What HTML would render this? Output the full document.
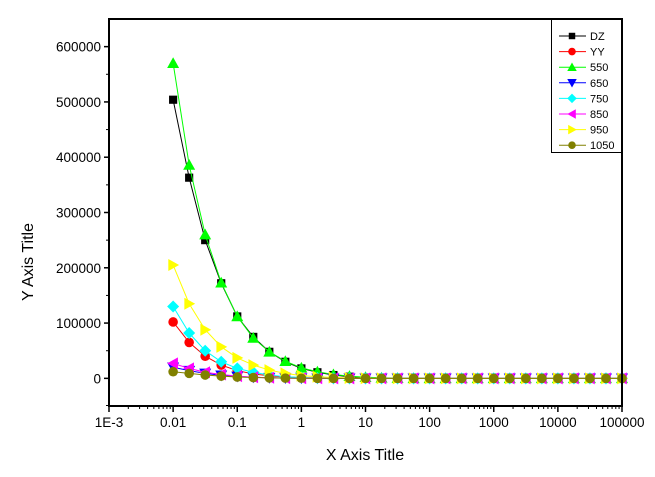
<!DOCTYPE html>
<html><head><meta charset="utf-8"><style>
body{margin:0;background:#fff;}
svg{display:block;font-family:"Liberation Sans",Arial,sans-serif;}
</style></head><body>
<svg id="chart" width="655" height="477" viewBox="0 0 655 477"></svg>
<script>
const seriesNames=["DZ","YY","550","650","750","850","950","1050"];
const colors=["#000000","#ff0000","#00ff00","#0000ff","#00ffff","#ff00ff","#ffff00","#808000"];
const markers=["square","circle","up","down","diamond","left","right","circle"];
const xTickLabels=["1E-3","0.01","0.1","1","10","100","1000","10000","100000"];
const yTickLabels=["0","100000","200000","300000","400000","500000","600000"];
const sDZ=[504000,363000,250000,172000,112000,75000,48000,30000,18000,11000,6000,3000,1500,700,300,100,0,0,0,0,0,0,0,0,0,0,0,0,0];
const sYY=[102000,65000,40000,24000,14000,8000,4500,2500,1300,600,300,100,0,0,0,0,0,0,0,0,0,0,0,0,0,0,0,0,0];
const s550=[570000,386000,260000,173000,112000,73000,48000,31000,19000,12000,7000,4000,2000,1000,400,150,0,0,0,0,0,0,0,0,0,0,0,0,0];
const s650=[20000,14000,9000,5500,3500,2000,1200,600,300,100,0,0,0,0,0,0,0,0,0,0,0,0,0,0,0,0,0,0,0];
const s750=[130000,82000,50000,30000,18000,11000,6000,3000,1500,700,300,100,0,0,0,0,0,0,0,0,0,0,0,0,0,0,0,0,0];
const s850=[27000,18000,11000,7000,4000,2000,1000,500,200,100,0,0,0,0,0,0,0,0,0,0,0,0,0,0,0,0,0,0,0];
const s950=[205000,135000,88000,57000,37000,24000,15000,9000,5000,3000,1500,700,300,100,0,0,0,0,0,0,0,0,0,0,0,0,0,0,0];
const s1050=[12000,9000,6000,4000,2500,1500,800,400,200,100,0,0,0,0,0,0,0,0,0,0,0,0,0,0,0,0,0,0,0];
const allSeries=[sDZ,sYY,s550,s650,s750,s850,s950,s1050];
const xLogStart=-2, xLogStep=0.25;

const L=109,R=622,T=19,B=406;
const xMin=-3,xMax=5,yMin=-50000,yMax=650000;
const X=v=>L+(Math.log10(v)-xMin)/(xMax-xMin)*(R-L);
const Y=v=>B-(v-yMin)/(yMax-yMin)*(B-T);
const svg=document.getElementById('chart');
const NS="http://www.w3.org/2000/svg";
function mk(tag,attrs,parent){const e=document.createElementNS(NS,tag);for(const k in attrs)e.setAttribute(k,attrs[k]);(parent||svg).appendChild(e);return e;}

function marker(type,cx,cy,s,color,parent){
  let e;
  if(type==="square")e=mk('rect',{x:cx-s*0.85,y:cy-s*0.85,width:1.7*s,height:1.7*s,fill:color},parent);
  else if(type==="circle")e=mk('circle',{cx:cx,cy:cy,r:s,fill:color},parent);
  else{
    let p;
    const k=s*1.25;
    if(type==="up")p=[[cx,cy-k],[cx+k,cy+k*0.8],[cx-k,cy+k*0.8]];
    if(type==="down")p=[[cx,cy+k],[cx+k,cy-k*0.8],[cx-k,cy-k*0.8]];
    if(type==="left")p=[[cx-k,cy],[cx+k*0.8,cy-k],[cx+k*0.8,cy+k]];
    if(type==="right")p=[[cx+k,cy],[cx-k*0.8,cy-k],[cx-k*0.8,cy+k]];
    if(type==="diamond")p=[[cx,cy-k],[cx+k,cy],[cx,cy+k],[cx-k,cy]];
    e=mk('polygon',{points:p.map(q=>q.join(',')).join(' '),fill:color},parent);
  }
  return e;
}

// series
allSeries.forEach((s,si)=>{
  const g=mk('g',{});
  
  
  const pts=s.map((v,i)=>[X(Math.pow(10,xLogStart+i*xLogStep)),Y(v)]);
  const pl=mk('polyline',{points:pts.map(p=>p.join(',')).join(' '),fill:'none',stroke:colors[si],'stroke-width':1},g);
  
  pts.forEach(p=>{
    const m=marker(markers[si],p[0],p[1],4.8,colors[si],g);
    
    
  });
});

// legend
const lg=mk('g',{});

mk('rect',{x:551.5,y:19,width:70,height:133.5,fill:'#fff',stroke:'#000'},lg);
seriesNames.forEach((n,i)=>{
  const y=36+i*15.6;
  const e=mk('g',{},lg);
  
  mk('line',{x1:559,x2:586,y1:y,y2:y,stroke:colors[i]},e);
  marker(markers[i],572,y,3.8,colors[i],e);
  const t=mk('text',{x:590,y:y+4,'font-size':11},e);t.textContent=n;
});

// frame
const frame=mk('rect',{x:L,y:T,width:R-L,height:B-T,fill:'none',stroke:'#000','stroke-width':2});


// y ticks
yTickLabels.forEach((lab)=>{
  const v=+lab,y=Y(v);
  const t=mk('line',{x1:L,x2:L-5,y1:y,y2:y,stroke:'#000','stroke-width':1.5});
  
  const tx=mk('text',{x:L-8,y:y+5,'text-anchor':'end','font-size':13.5});
  tx.textContent=lab;
  
  const ym=Y(v+50000);if(ym>T){const m=mk('line',{x1:L,x2:L-3,y1:ym,y2:ym,stroke:'#000'});}
});
{const m=mk('line',{x1:L,x2:L-3,y1:Y(-50000)-0.5,y2:Y(-50000)-0.5,stroke:'#000'});}
// x ticks
xTickLabels.forEach((lab,i)=>{
  const v=Math.pow(10,xMin+i),x=X(v);
  const t=mk('line',{x1:x,x2:x,y1:B,y2:B+6,stroke:'#000','stroke-width':1.5});
  
  const tx=mk('text',{x:x,y:B+21,'text-anchor':'middle','font-size':13.5});
  tx.textContent=lab;
  
  if(i<xTickLabels.length-1){for(let k=2;k<10;k++){const xm=X(v*k);const m=mk('line',{x1:xm,x2:xm,y1:B,y2:B+3,stroke:'#000'});}}
});
const xt=mk('text',{x:365,y:460,'text-anchor':'middle','font-size':16});xt.textContent='X Axis Title';

const yt=mk('text',{x:33,y:262,'text-anchor':'middle','font-size':16,transform:'rotate(-90 33 262)'});yt.textContent='Y Axis Title';

</script>
</body></html>
